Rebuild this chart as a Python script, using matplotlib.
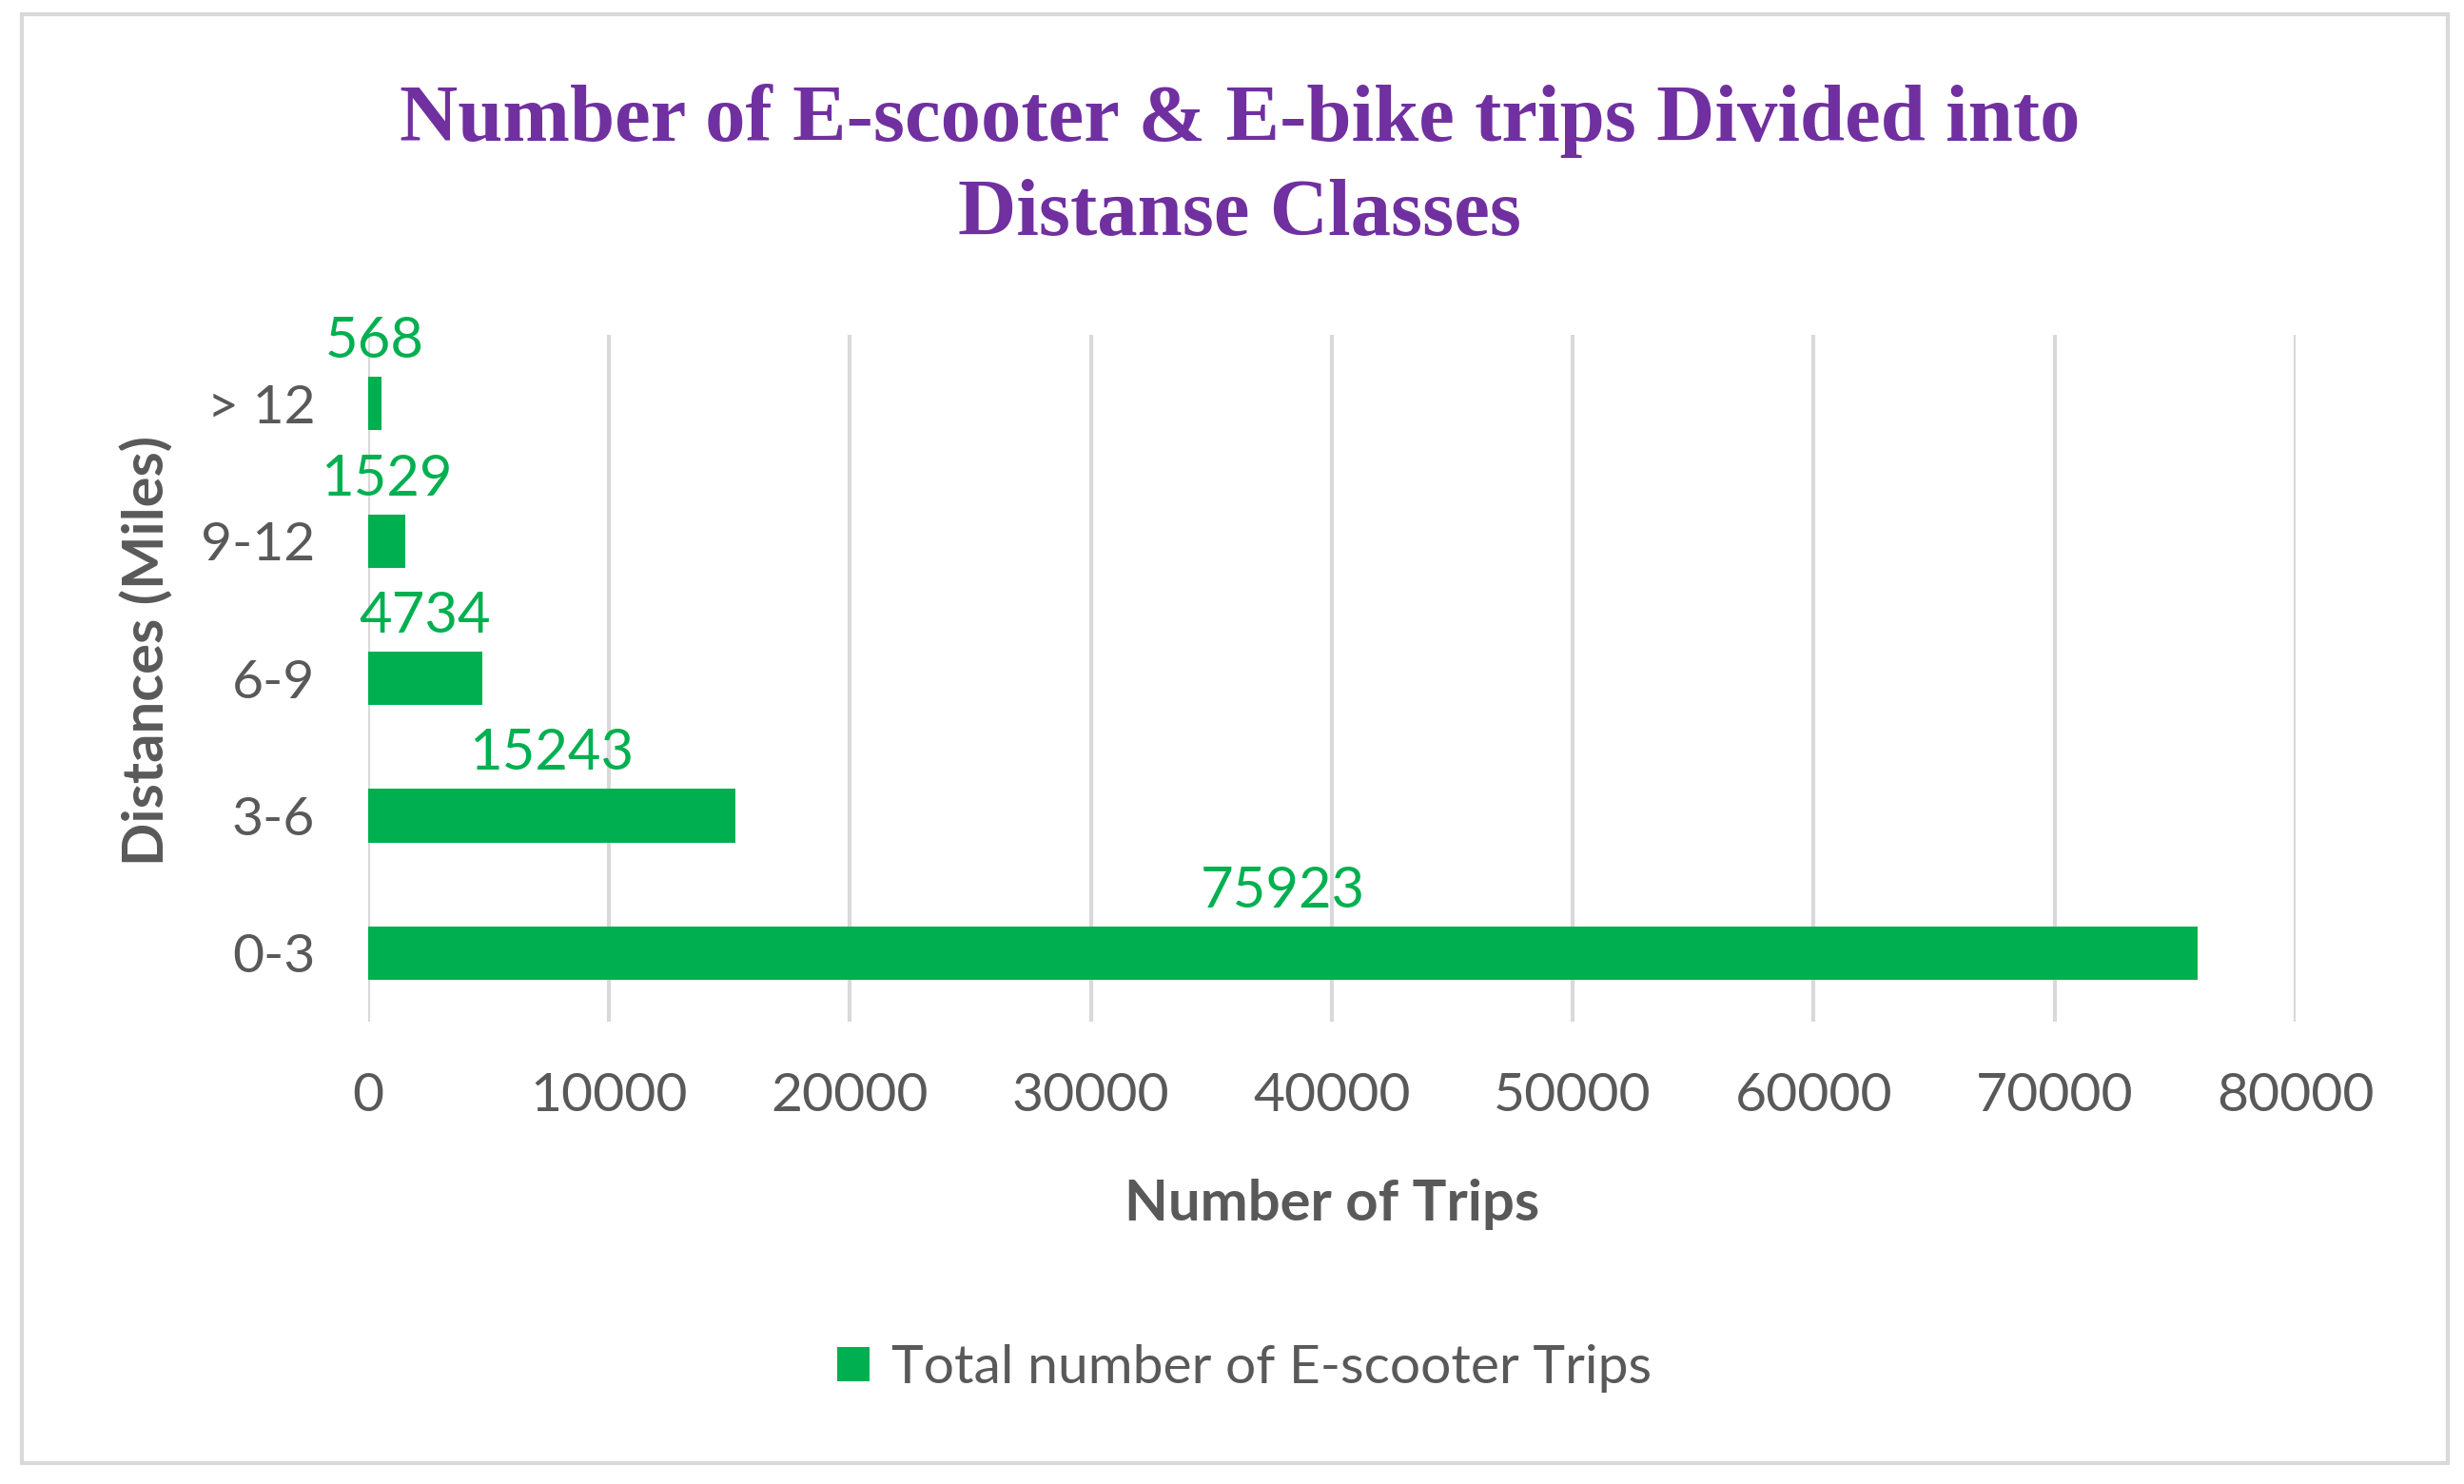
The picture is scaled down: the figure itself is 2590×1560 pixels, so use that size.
import matplotlib
matplotlib.use('Agg')
import matplotlib.pyplot as plt
from matplotlib.patches import Rectangle

plt.rcParams['font.family'] = ['Lato', 'DejaVu Sans']

# データ
categories = ['0-3', '3-6', '6-9', '9-12', '> 12']
trips = [75923, 15243, 4734, 1529, 568]
x_ticks = [0, 10000, 20000, 30000, 40000, 50000, 60000, 70000, 80000]

title = 'Number of E-scooter & E-bike trips Divided into\nDistanse Classes'
series_name = 'Total number of E-scooter Trips'

green = '#00B050'
gray = '#595959'
purple = '#7030A0'

fig = plt.figure(figsize=(25.9, 15.6), dpi=100)
ax = fig.add_axes([0.1494, 0.3115, 0.7822, 0.4628])

y_pos = range(len(categories))
ax.barh(y_pos, trips, height=0.39, color=green, label=series_name, zorder=3)

# データラベル (バーの中央の上)
for y, v in zip(y_pos, trips):
    ax.text(v / 2, y + 0.45, str(v), ha='center', va='center',
            fontsize=43, color=green, zorder=4)

ax.set_xlim(0, 80000)
ax.set_ylim(-0.5, 4.5)
ax.set_xticks(x_ticks)
ax.set_xticklabels([str(t) for t in x_ticks])
ax.set_yticks(list(y_pos))
ax.set_yticklabels(categories)
ax.tick_params(axis='both', length=0, labelsize=41, labelcolor=gray)
ax.tick_params(axis='x', pad=38)
ax.tick_params(axis='y', pad=40)
ax.grid(axis='x', color='#D9D9D9', linewidth=3, zorder=0)
for s in ax.spines.values():
    s.set_visible(False)

ax.set_xlabel('Number of Trips', fontsize=43, fontweight='bold', color=gray, labelpad=44)
ax.set_ylabel('Distances (Miles)', fontsize=43, fontweight='bold', color=gray, labelpad=22)
ax.yaxis.set_label_coords(-0.101, 0.54)

fig.text(0.503, 0.887, title, ha='center', va='center', fontsize=61,
         fontweight='bold', color=purple, family='Liberation Serif',
         linespacing=1.38)

leg = fig.legend(loc='center', bbox_to_anchor=(0.505, 0.078), frameon=False,
                 fontsize=41, handlelength=0.6, handleheight=0.6, handletextpad=0.4)
for t in leg.get_texts():
    t.set_color(gray)

# 外枠
fig.patches.append(Rectangle((23 / 2590, 1 - 1538 / 1560), 2550 / 2590, 1523 / 1560,
                             transform=fig.transFigure, fill=False,
                             edgecolor='#D9D9D9', linewidth=3))

plt.savefig('out.png', dpi=100)
plt.close()
